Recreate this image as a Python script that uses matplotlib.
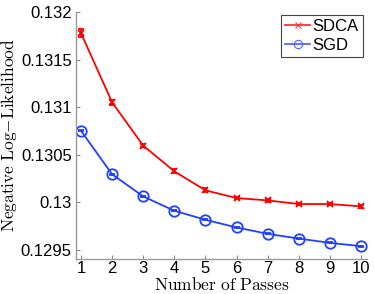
import matplotlib
matplotlib.use("Agg")
import matplotlib.pyplot as plt
from matplotlib.lines import Line2D
import numpy as np

passes = [1, 2, 3, 4, 5, 6, 7, 8, 9, 10]
sdca = [0.131778, 0.131049, 0.130594, 0.130323, 0.130123, 0.130042, 0.130017, 0.129979, 0.129979, 0.129954]
sdca_err = [0.00004, 0.00003, 0.000015, 0.00002, 0.00002, 0.000012, 0.000012, 0.000012, 0.000012, 0.000012]
sgd = [0.13075, 0.130292, 0.130059, 0.129908, 0.129813, 0.129732, 0.129665, 0.129615, 0.12957, 0.129535]
sgd_err = [0.000005] * 10
yticks = [0.1295, 0.13, 0.1305, 0.131, 0.1315, 0.132]
ytick_labels = ["0.1295", "0.13", "0.1305", "0.131", "0.1315", "0.132"]

plt.rcParams['mathtext.fontset'] = 'cm'
fig = plt.figure(figsize=(3.74, 2.94), dpi=100)
ax = fig.add_axes([0.2032, 0.1190, 0.7773, 0.8400])

red = '#ff0000'
blue = '#2040ff'
ax.errorbar(passes, sdca, yerr=sdca_err, color=red, marker='x', markersize=5,
            markeredgewidth=1.3, linewidth=1.3, capsize=2.5, elinewidth=1.3)
ax.errorbar(passes, sgd, yerr=sgd_err, color=blue, marker='o', markersize=7.5,
            markerfacecolor='none', markeredgewidth=1.3, linewidth=1.3, capsize=2.5,
            elinewidth=1.0)

ax.set_xlim(0.84, 10.18)
ax.set_ylim(0.1294, 0.132)
ax.set_xticks(passes)
ax.set_xticklabels([str(p) for p in passes], fontsize=12, family='Liberation Sans')
ax.set_yticks(yticks)
ax.set_yticklabels(ytick_labels, fontsize=12, family='Liberation Sans')
ax.tick_params(direction='in', length=3, color='#888888', pad=3)
ax.tick_params(axis='x', pad=1.5)
for s in ['top', 'right']:
    ax.spines[s].set_visible(False)
for s in ['left', 'bottom']:
    ax.spines[s].set_color('#999999')
    ax.spines[s].set_linewidth(1.0)

ax.set_xlabel(r'$\mathrm{Number\ of\ Passes}$', fontsize=12.5, labelpad=0)
ax.set_ylabel(r'$\mathrm{Negative\ Log{-}Likelihood}$', fontsize=12.5, labelpad=1)

handles = [Line2D([], [], color='#ff3333', marker='x', markersize=5, markeredgewidth=0.8, linewidth=1.3),
           Line2D([], [], color='#5566ff', marker='o', markersize=6, markerfacecolor='none',
                  markeredgewidth=0.8, linewidth=1.3)]
leg = ax.legend(handles, ['SDCA', 'SGD'], loc='upper right', bbox_to_anchor=(0.987, 0.988),
                prop={'family': 'Liberation Sans', 'size': 12},
                fancybox=False, framealpha=1, edgecolor='#444444',
                handlelength=1.5, handletextpad=0.15, borderpad=0.25,
                labelspacing=0.2, borderaxespad=0.0)
leg.get_frame().set_linewidth(0.8)

fig.savefig('out.png', dpi=100)
